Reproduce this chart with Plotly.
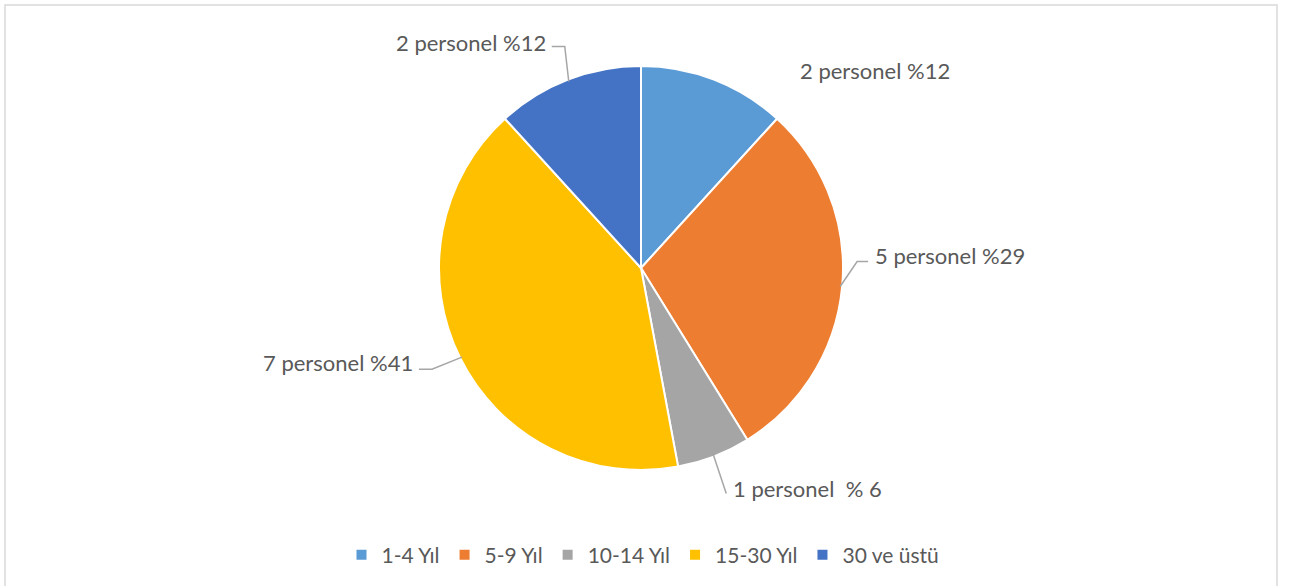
import math
import plotly.graph_objects as go

# ---- data ----
categories = ["1-4 Yıl", "5-9 Yıl", "10-14 Yıl", "15-30 Yıl", "30 ve üstü"]
values = [2, 5, 1, 7, 2]
label_texts = ["2 personel %12", "5 personel %29", "1 personel  % 6", "7 personel %41", "2 personel %12"]
colors = ["#5B9BD5", "#ED7D31", "#A5A5A5", "#FFC000", "#4472C4"]

# ---- label layout (pixels): elbow offset from slice-edge anchor, horizontal stub, text dy, leader on/off
elbow_offsets = [(85, -11), (17, -25), (13, 39), (-30, 12), (-4, -35)]
stubs = [0, 11, 0, -13, -13]
text_dy = [0, -6, -5, -7, -4]
leader = [False, True, True, True, True]

W, H = 1291, 586
ML, MR, MT, MB = 0, 9, 66, 116
pw, ph = W - ML - MR, H - MT - MB
radius = min(pw, ph) / 2.0 - 2
cx, cy = ML + pw / 2.0, MT + ph / 2.0

TXT = "#595959"
LINE = "#A6A6A6"
FONT = "Lato, 'Open Sans', sans-serif"

fig = go.Figure(go.Pie(
    labels=categories,
    values=values,
    sort=False,
    direction="clockwise",
    rotation=0,
    marker=dict(colors=colors, line=dict(color="white", width=2)),
    textinfo="none",
    hoverinfo="label+value+percent",
))

def to_paper(px, py):
    return (px - ML) / pw, 1 - (py - MT) / ph

total = sum(values)
cum = 0
annotations = []
shapes = []
for i, v in enumerate(values):
    mid = (cum + v / 2.0) / total * 2 * math.pi
    cum += v
    ex = cx + radius * math.sin(mid)
    ey = cy - radius * math.cos(mid)
    dx, dy = elbow_offsets[i]
    kx, ky = ex + dx, ey + dy
    sx = kx + stubs[i]
    right_side = dx >= 0
    if leader[i]:
        p = [to_paper(ex, ey), to_paper(kx, ky), to_paper(sx, ky)]
        path = "M {} {} L {} {} L {} {}".format(p[0][0], p[0][1], p[1][0], p[1][1], p[2][0], p[2][1])
        shapes.append(dict(type="path", xref="paper", yref="paper", path=path,
                           line=dict(color=LINE, width=1.5)))
        tx = sx + (5 if right_side else -4)
    else:
        tx = sx
    txp, typ = to_paper(tx, ky + text_dy[i])
    annotations.append(dict(
        x=txp, y=typ, xref="paper", yref="paper",
        text=label_texts[i], showarrow=False,
        xanchor="left" if right_side else "right", yanchor="middle",
        font=dict(family=FONT, size=22, color=TXT),
    ))

bx0, by0 = to_paper(5, 5)
bx1, by1 = to_paper(1277, 600)
shapes.insert(0, dict(type="rect", xref="paper", yref="paper",
                      x0=bx0, y0=by0, x1=bx1, y1=by1,
                      line=dict(color="#D9D9D9", width=1.5), layer="below"))

fig.update_layout(
    width=W, height=H,
    margin=dict(l=ML, r=MR, t=MT, b=MB),
    paper_bgcolor="white",
    plot_bgcolor="white",
    annotations=annotations,
    shapes=shapes,
    legend=dict(orientation="h", x=(643 - ML) / pw, xanchor="center",
                y=1 - (555 - MT) / ph, yanchor="middle",
                font=dict(family=FONT, size=21, color=TXT),
                traceorder="normal"),
    showlegend=True,
)

fig.write_html("out.html", config={"displayModeBar": False},
               post_script="document.body.style.margin='0';")
